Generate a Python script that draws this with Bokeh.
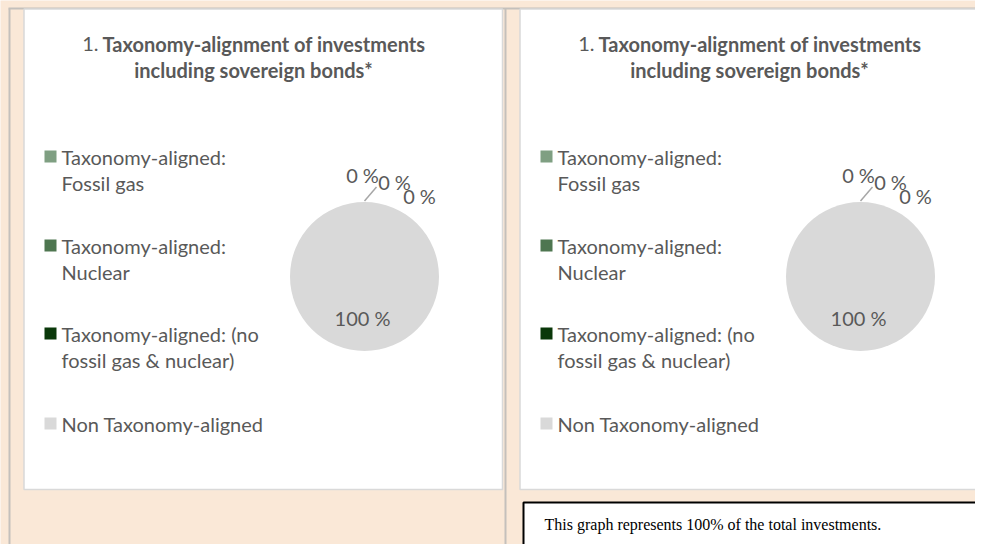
import math
from bokeh.plotting import figure
from bokeh.models import Range1d
from bokeh.core.properties import value
from bokeh.embed import file_html
from bokeh.resources import INLINE

# ---------------- data ----------------
title_num = "1."
title_line1 = "Taxonomy-alignment of investments"
title_line2 = "including sovereign bonds*"
categories = [
    ["Taxonomy-aligned:", "Fossil gas"],
    ["Taxonomy-aligned:", "Nuclear"],
    ["Taxonomy-aligned: (no", "fossil gas & nuclear)"],
    ["Non Taxonomy-aligned"],
]
colors = ["#7F9F82", "#4E7650", "#0A380A", "#D9D9D9"]
values_chart1 = [0, 0, 0, 100]
values_chart2 = [0, 0, 0, 100]
footnote = "This graph represents 100% of the total investments."

# ---------------- styling ----------------
W, H = 975, 544
BG = "#FAE8D7"
TXT = "#595959"
FONT = "Lato"
FS = "20px"

p = figure(width=W, height=H, output_backend="svg", toolbar_location=None,
           x_range=Range1d(0, W), y_range=Range1d(H, 0),
           background_fill_color=BG, border_fill_color=BG,
           min_border=0, outline_line_color=None)
p.axis.visible = False
p.grid.visible = False

# table cell borders
p.segment(x0=[9, 505], y0=[8, 8], x1=[9, 505], y1=[H, H], line_color="#C4C0BC", line_width=2)
p.segment(x0=[8], y0=[8], x1=[W], y1=[8], line_color="#C4C0BC", line_width=2)

# footnote box
p.quad(left=[523], right=[W + 10], top=[502], bottom=[556],
       fill_color="white", line_color="black", line_width=2)
p.text(x=[544], y=[524], text=[footnote], text_font=value("Liberation Serif"),
       text_font_size="16px", text_color="black", text_baseline="middle")


def draw_panel(ox, vals):
    # card
    p.quad(left=[ox + 23.5], right=[ox + 502], top=[8.5], bottom=[489],
           fill_color="white", line_color="#D9D9D9", line_width=1.5)
    # title
    p.text(x=[ox + 98], y=[43], text=[title_num], text_font=value(FONT),
           text_font_size=FS, text_color=TXT, text_baseline="middle", text_align="right")
    p.text(x=[ox + 102], y=[43], text=[title_line1], text_font=value(FONT),
           text_font_size=FS, text_font_style="bold", text_color=TXT,
           text_baseline="middle", text_align="left")
    p.text(x=[ox + 253], y=[69], text=[title_line2], text_font=value(FONT),
           text_font_size=FS, text_font_style="bold", text_color=TXT,
           text_baseline="middle", text_align="center")
    # legend
    first_y = [156, 245, 333, 423]
    for i, lines in enumerate(categories):
        y0 = first_y[i]
        p.rect(x=[ox + 50], y=[y0], width=12, height=12, fill_color=colors[i], line_color=None)
        for j, ln in enumerate(lines):
            p.text(x=[ox + 61], y=[y0 + 26 * j], text=[ln], text_font=value(FONT),
                   text_font_size=FS, text_color=TXT, text_baseline="middle")
    # pie
    cx, cy, r = ox + 364, 276, 74.5
    total = float(sum(vals))
    start = math.pi / 2
    zero_offsets = [(-2, -102), (30, -95), (55, -81)]
    zi = 0
    for i, v in enumerate(vals):
        frac = v / total
        a0 = start
        a1 = start - frac * 2 * math.pi
        label = f"{v:g} %"
        if v > 0:
            if frac >= 0.999:
                p.circle(x=[cx], y=[cy], radius=r, fill_color=colors[i], line_color=None)
            else:
                p.wedge(x=[cx], y=[cy], radius=r, start_angle=-a0, end_angle=-a1,
                        direction="anticlock", fill_color=colors[i], line_color=None)
            mid = (a0 + a1) / 2
            lx = cx + 0.56 * r * math.cos(mid)
            ly = cy - 0.56 * r * math.sin(mid)
            p.text(x=[lx - 2], y=[ly], text=[label], text_font=value(FONT),
                   text_font_size=FS, text_color=TXT, text_baseline="middle", text_align="center")
        else:
            dx, dy = zero_offsets[zi]
            zi += 1
            p.text(x=[cx + dx], y=[cy + dy], text=[label], text_font=value(FONT),
                   text_font_size=FS, text_color=TXT, text_baseline="middle", text_align="center")
        start = a1
    # leader line
    p.segment(x0=[cx], y0=[cy - r - 1], x1=[cx + 12], y1=[cy - r - 15],
              line_color="#A6A6A6", line_width=1.5)


draw_panel(0, values_chart1)
draw_panel(496, values_chart2)

open("out.html", "w").write(file_html(p, INLINE))
